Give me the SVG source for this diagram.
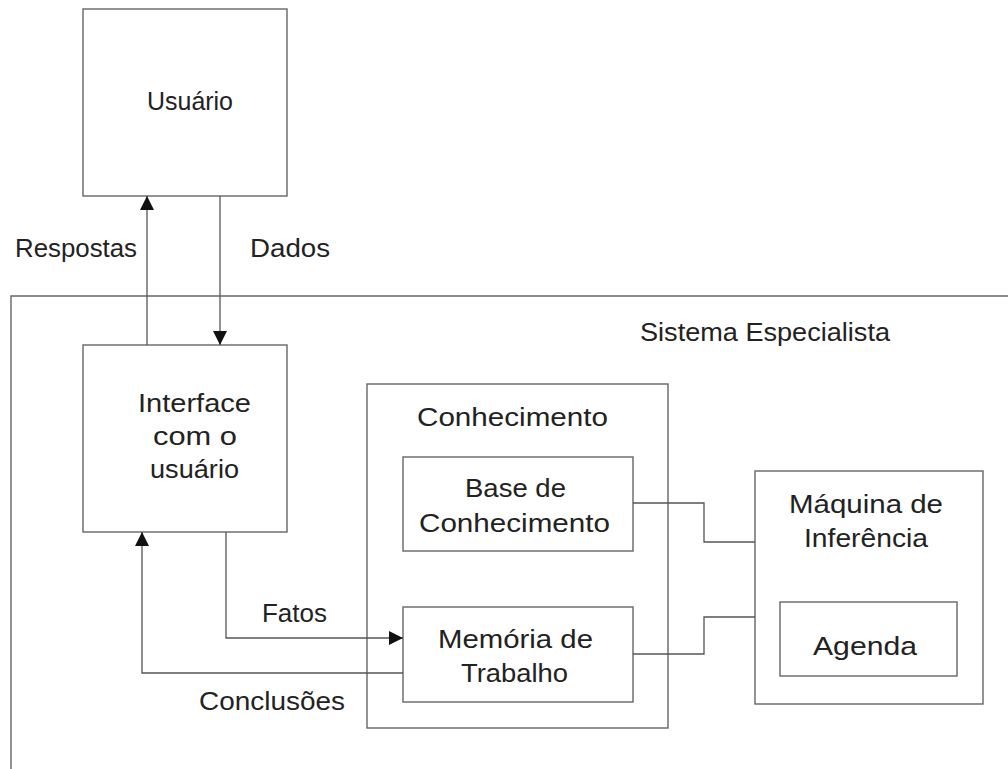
<svg xmlns="http://www.w3.org/2000/svg" width="1008" height="769" viewBox="0 0 1008 769">
<defs>
<style>
.box{fill:none;stroke:#666;stroke-width:1.4}
.ln{fill:none;stroke:#555;stroke-width:1.3}
text{font-family:"Liberation Sans",Arial,sans-serif;font-size:25px;fill:#222;lengthAdjust:spacingAndGlyphs}
</style>
<marker id="ah" viewBox="0 0 14 14" refX="14" refY="7" markerWidth="14" markerHeight="14" markerUnits="userSpaceOnUse" orient="auto">
<path d="M0,0 L14,7 L0,14 Z" fill="#111"/>
</marker>
</defs>
<rect width="1008" height="769" fill="#fff"/>
<g id="sistema">
<path class="box" d="M1008,296 H11 V769"/>
<text x="640" y="341" textLength="250" lengthAdjust="spacingAndGlyphs">Sistema Especialista</text>
</g>
<g id="usuario">
<rect class="box" x="83" y="9" width="204" height="187"/>
<text x="147" y="110" textLength="86" lengthAdjust="spacingAndGlyphs">Usuário</text>
</g>
<g id="interface">
<rect class="box" x="83" y="345" width="204" height="187"/>
<text x="138" y="412" textLength="113" lengthAdjust="spacingAndGlyphs">Interface</text>
<text x="153" y="445" textLength="84" lengthAdjust="spacingAndGlyphs">com o</text>
<text x="150" y="478" textLength="89" lengthAdjust="spacingAndGlyphs">usuário</text>
</g>
<g id="conhecimento">
<rect class="box" x="367" y="384" width="301" height="344"/>
<text x="417" y="426" textLength="191" lengthAdjust="spacingAndGlyphs">Conhecimento</text>
</g>
<g id="base">
<rect class="box" x="403" y="457" width="230" height="94"/>
<text x="465" y="497" textLength="101" lengthAdjust="spacingAndGlyphs">Base de</text>
<text x="419" y="532" textLength="191" lengthAdjust="spacingAndGlyphs">Conhecimento</text>
</g>
<g id="memoria">
<rect class="box" x="403" y="607" width="230" height="95"/>
<text x="438" y="648" textLength="155" lengthAdjust="spacingAndGlyphs">Memória de</text>
<text x="461" y="682" textLength="107" lengthAdjust="spacingAndGlyphs">Trabalho</text>
</g>
<g id="maquina">
<rect class="box" x="755" y="471" width="228" height="233"/>
<text x="789" y="513" textLength="154" lengthAdjust="spacingAndGlyphs">Máquina de</text>
<text x="804" y="547" textLength="124" lengthAdjust="spacingAndGlyphs">Inferência</text>
</g>
<g id="agenda">
<rect class="box" x="780" y="602" width="177" height="74"/>
<text x="813" y="655" textLength="104" lengthAdjust="spacingAndGlyphs">Agenda</text>
</g>
<g id="connectors">
<path class="ln" d="M147,345 V196" marker-end="url(#ah)"/>
<path class="ln" d="M220,196 V345" marker-end="url(#ah)"/>
<path class="ln" d="M226,532 V638 H403" marker-end="url(#ah)"/>
<path class="ln" d="M403,673 H142 V532" marker-end="url(#ah)"/>
<path class="ln" d="M633,503 H704 V542 H755"/>
<path class="ln" d="M633,654 H704 V617 H755"/>
</g>
<g id="labels">
<text x="15" y="257" textLength="122" lengthAdjust="spacingAndGlyphs">Respostas</text>
<text x="250" y="257" textLength="80" lengthAdjust="spacingAndGlyphs">Dados</text>
<text x="262" y="622" textLength="65" lengthAdjust="spacingAndGlyphs">Fatos</text>
<text x="199" y="710" textLength="146" lengthAdjust="spacingAndGlyphs">Conclusões</text>
</g>
</svg>
